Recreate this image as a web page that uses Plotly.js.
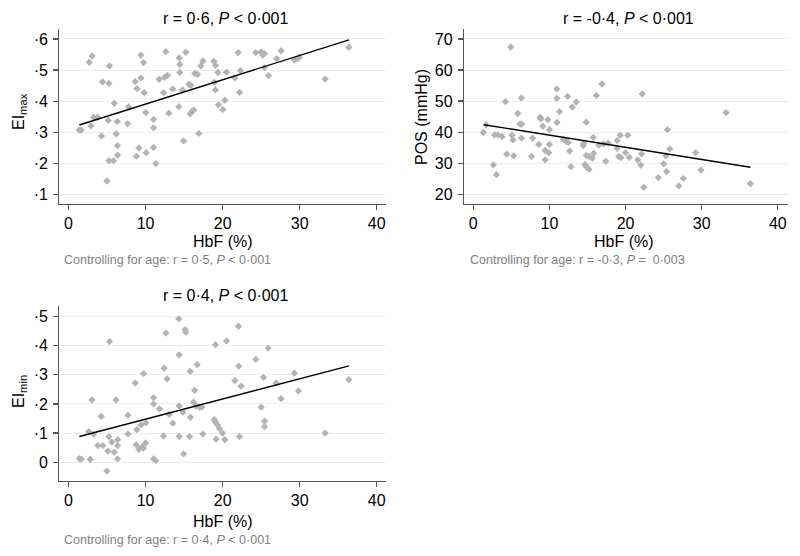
<!DOCTYPE html>
<html>
<head>
<meta charset="utf-8">
<script src="https://cdn.plot.ly/plotly-3.0.1.min.js"></script>
<style>html,body{margin:0;padding:0;background:#fff}#chart{width:800px;height:556px}</style>
</head>
<body>
<div id="chart"></div>
<script>
// Panel A: EI max vs HbF
const eiMaxX = [1.39,1.65,2.68,3.07,3.25,3.77,2.90,4.28,4.41,5.24,5.32,4.98,5.15,5.24,5.84,5.93,6.32,6.19,6.36,6.36,7.66,7.79,8.65,9.39,8.87,8.82,9.13,9.39,9.73,9.82,10.08,10.03,11.03,11.03,11.03,11.33,11.76,12.33,12.46,12.84,12.63,13.02,13.54,14.31,14.36,14.44,14.44,15.22,14.92,14.79,15.61,15.87,15.78,16.04,16.26,16.39,16.74,16.91,17.17,17.43,18.85,19.07,18.90,19.07,19.37,19.46,20.02,20.28,20.50,21.58,22.01,22.19,22.31,24.30,24.99,25.21,25.43,25.43,25.94,27.03,27.59,29.32,29.71,29.96,33.30,36.37];
const eiMaxY = [0.307,0.307,0.525,0.545,0.348,0.348,0.320,0.288,0.462,0.457,0.513,0.143,0.338,0.208,0.208,0.393,0.334,0.295,0.257,0.226,0.327,0.382,0.463,0.474,0.440,0.223,0.249,0.548,0.524,0.427,0.234,0.363,0.341,0.314,0.251,0.199,0.470,0.427,0.476,0.483,0.559,0.361,0.439,0.382,0.539,0.518,0.492,0.557,0.272,0.436,0.454,0.451,0.359,0.367,0.371,0.489,0.486,0.296,0.513,0.529,0.528,0.515,0.461,0.436,0.492,0.388,0.373,0.403,0.493,0.474,0.556,0.428,0.498,0.556,0.558,0.548,0.553,0.508,0.482,0.536,0.562,0.532,0.537,0.541,0.471,0.573];
const eiMaxFitX = [1.4, 36.4];
const eiMaxFitY = [0.323, 0.597];

// Panel B: POS vs HbF
const posX = [1.32,1.67,2.63,3.03,2.81,3.25,3.78,4.22,4.39,4.92,5.31,5.09,5.22,5.84,6.15,6.37,6.32,6.32,7.64,7.77,8.61,8.78,8.87,9.13,9.44,9.44,9.79,10.01,10.01,9.92,10.98,10.98,10.98,11.33,11.86,12.21,12.47,12.38,12.65,13.00,12.82,13.52,14.67,14.84,14.84,14.45,14.50,14.84,15.19,15.63,15.19,15.81,15.76,16.16,16.50,17.10,17.70,16.90,17.40,18.90,18.90,19.30,20.30,19.10,19.40,20.00,20.50,21.60,22.00,22.10,22.20,22.40,24.30,25.00,25.30,25.50,25.40,25.80,27.00,27.60,29.20,29.90,33.20,36.40];
const posY = [39.9,42.3,29.5,26.3,39.1,39.1,38.6,49.8,32.9,67.4,32.4,39.0,37.5,46.0,42.6,42.6,51.0,38.1,32.2,38.1,36.1,44.8,44.3,41.9,34.1,31.1,44.0,40.8,36.1,33.4,53.9,50.9,43.1,46.6,37.7,37.0,36.7,51.5,33.9,48.1,28.9,49.7,29.6,28.9,43.2,35.7,36.3,32.5,32.2,31.6,28.1,33.2,38.3,51.8,35.8,36.2,36.5,55.5,30.6,37.3,34.8,39.0,39.0,32.2,31.8,33.4,31.9,31.1,29.4,33.0,52.3,22.2,25.4,29.8,32.4,40.8,27.3,34.6,22.7,25.1,33.4,27.8,46.3,23.4];
const posFitX = [1.4, 36.4];
const posFitY = [42.4, 28.7];

// Panel C: EI min vs HbF
const eiMinX = [1.39,1.65,2.82,2.60,3.25,3.03,4.24,3.81,4.45,4.98,5.24,5.32,5.62,5.11,5.93,6.36,6.36,6.36,6.15,7.71,7.71,8.65,8.87,9.39,8.78,9.13,9.56,9.99,9.73,9.73,10.03,11.03,11.03,11.03,11.33,11.81,12.41,12.63,12.80,12.33,13.06,13.54,14.31,14.36,14.36,14.36,14.84,14.92,15.14,15.22,15.78,15.83,15.70,16.35,16.70,16.22,16.56,17.00,17.30,17.43,18.90,19.07,19.07,19.15,19.33,19.59,19.98,20.28,20.50,21.58,22.05,22.09,22.19,22.40,24.30,24.99,25.30,25.43,25.43,25.90,26.94,27.59,29.32,29.84,33.30,36.37];
const eiMinY = [0.012,0.010,0.009,0.105,0.096,0.214,0.157,0.057,0.057,-0.031,0.087,0.415,0.069,0.038,0.034,0.077,0.057,0.011,0.214,0.161,0.097,0.272,0.112,0.128,0.060,0.044,0.053,0.066,0.048,0.304,0.135,0.221,0.200,0.011,0.005,0.183,0.323,0.444,0.286,0.090,0.164,0.134,0.493,0.369,0.193,0.088,0.172,0.028,0.456,0.447,0.312,0.154,0.088,0.247,0.335,0.206,0.193,0.189,0.189,0.097,0.146,0.138,0.404,0.079,0.128,0.115,0.100,0.077,0.417,0.280,0.467,0.330,0.088,0.261,0.353,0.189,0.292,0.141,0.122,0.392,0.272,0.218,0.306,0.245,0.100,0.284];
const eiMinFitX = [1.4, 36.4];
const eiMinFitY = [0.088, 0.331];

// Tick labels
const xTickVals = [0, 10, 20, 30, 40];
const xTickText = ['0', '10', '20', '30', '40'];
const eiMaxTickVals = [0.1, 0.2, 0.3, 0.4, 0.5, 0.6];
const eiMaxTickText = ['·1', '·2', '·3', '·4', '·5', '·6'];
const posTickVals = [20, 30, 40, 50, 60, 70];
const posTickText = ['20', '30', '40', '50', '60', '70'];
const eiMinTickVals = [0, 0.1, 0.2, 0.3, 0.4, 0.5];
const eiMinTickText = ['0', '·1', '·2', '·3', '·4', '·5'];

// Text
const panelTitles = ['r = 0·6, <i>P</i> < 0·001', 'r = -0·4, <i>P</i> < 0·001', 'r = 0·4, <i>P</i> < 0·001'];
const panelNotes = ['Controlling for age: r = 0·5, <i>P</i> < 0·001', 'Controlling for age: r = -0·3, <i>P</i> =  0·003', 'Controlling for age: r = 0·4, <i>P</i> < 0·001'];
const yTitles = ['EI<sub>max</sub>', 'POS (mmHg)', 'EI<sub>min</sub>'];
const xTitle = 'HbF (%)';

const W = 800, H = 556;
const px = x => x / W;
const py = y => 1 - y / H;

const markerStyle = {symbol: 'diamond', size: 5.6, color: '#b3b3b3', line: {width: 0}};
const lineStyle = {color: '#000', width: 1.4};

function scatter(x, y, xa, ya) {
  return {x, y, xaxis: xa, yaxis: ya, type: 'scatter', mode: 'markers', marker: markerStyle, hoverinfo: 'skip', showlegend: false};
}
function fit(x, y, xa, ya) {
  return {x, y, xaxis: xa, yaxis: ya, type: 'scatter', mode: 'lines', line: lineStyle, hoverinfo: 'skip', showlegend: false};
}

const data = [
  scatter(eiMaxX, eiMaxY, 'x', 'y'), fit(eiMaxFitX, eiMaxFitY, 'x', 'y'),
  scatter(posX, posY, 'x2', 'y2'), fit(posFitX, posFitY, 'x2', 'y2'),
  scatter(eiMinX, eiMinY, 'x3', 'y3'), fit(eiMinFitX, eiMinFitY, 'x3', 'y3')
];

const font = {family: '"Liberation Sans", Arial, Helvetica, sans-serif', size: 15, color: '#000'};

function xAxis(l, r, anchor) {
  return {
    domain: [px(l), px(r)], anchor, range: [-1.2, 41.2],
    tickvals: xTickVals, ticktext: xTickText,
    showgrid: false, zeroline: false, showline: true, linecolor: '#555', linewidth: 1.2,
    ticks: 'outside', ticklen: 5, tickcolor: '#555', tickwidth: 1.2,
    tickfont: {family: font.family, size: 16, color: '#000'}
  };
}
function yAxis(t, b, anchor, range, vals, text) {
  return {
    domain: [py(b), py(t)], anchor, range,
    tickvals: vals, ticktext: text,
    showgrid: true, gridcolor: '#eeeeee', gridwidth: 1, zeroline: false,
    showline: true, linecolor: '#555', linewidth: 1.2,
    ticks: 'outside', ticklen: 5, tickcolor: '#555', tickwidth: 1.2,
    ticklabelstandoff: 2,
    tickfont: {family: font.family, size: 16, color: '#000'}
  };
}

function ann(text, x, y, opts) {
  return Object.assign({text, x: px(x), y: py(y), xref: 'paper', yref: 'paper', showarrow: false,
    xanchor: 'center', yanchor: 'middle', font: Object.assign({}, font)}, opts || {});
}

const annotations = [
  ann(panelTitles[0], 226, 18, {font: Object.assign({}, font, {size: 16})}),
  ann(panelTitles[1], 628, 18, {font: Object.assign({}, font, {size: 16})}),
  ann(panelTitles[2], 226, 295, {font: Object.assign({}, font, {size: 16})}),
  ann(xTitle, 223, 242, {font: Object.assign({}, font, {size: 16})}),
  ann(xTitle, 624, 242, {font: Object.assign({}, font, {size: 16})}),
  ann(xTitle, 223, 521, {font: Object.assign({}, font, {size: 16})}),
  ann(yTitles[0], 20, 112, {textangle: -90, font: Object.assign({}, font, {size: 16})}),
  ann(yTitles[1], 421, 117, {textangle: -90, font: Object.assign({}, font, {size: 16})}),
  ann(yTitles[2], 20, 392, {textangle: -90, font: Object.assign({}, font, {size: 16})}),
  ann(panelNotes[0], 62, 260, {xanchor: 'left', font: Object.assign({}, font, {size: 12.5, color: '#808080'})}),
  ann(panelNotes[1], 468, 260, {xanchor: 'left', font: Object.assign({}, font, {size: 12.5, color: '#808080'})}),
  ann(panelNotes[2], 62, 540, {xanchor: 'left', font: Object.assign({}, font, {size: 12.5, color: '#808080'})})
];

const layout = {
  width: W, height: H, margin: {l: 0, r: 0, t: 0, b: 0},
  paper_bgcolor: '#fff', plot_bgcolor: '#fff', font,
  showlegend: false,
  xaxis: xAxis(59.3, 386, 'y'),
  yaxis: yAxis(29.3, 204, 'x', [0.069, 0.631], eiMaxTickVals, eiMaxTickText),
  xaxis2: Object.assign(xAxis(464, 787.7, 'y2'), {range: [-1.22, 41.3]}),
  yaxis2: yAxis(29.3, 204, 'x2', [16.88, 73.1], posTickVals, posTickText),
  xaxis3: xAxis(59.3, 386, 'y3'),
  yaxis3: yAxis(305.7, 481, 'x3', [-0.065, 0.538], eiMinTickVals, eiMinTickText),
  annotations
};

Plotly.newPlot('chart', data, layout, {staticPlot: true, displayModeBar: false});
</script>
</body>
</html>
